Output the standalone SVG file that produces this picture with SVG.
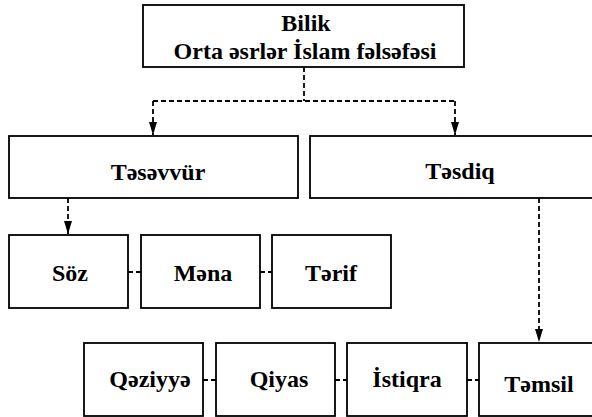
<svg xmlns="http://www.w3.org/2000/svg" width="592" height="417" viewBox="0 0 592 417">
  <defs>
    <marker id="arrow" viewBox="0 0 13 8" refX="13" refY="4" markerWidth="13" markerHeight="8" markerUnits="userSpaceOnUse" orient="auto">
      <path d="M0,0 L13,4 L0,8 z" fill="#000"/>
    </marker>
    <style>
      .box { fill: #fff; stroke: #000; stroke-width: 1.8; }
      .lbl { font-family: "Liberation Serif", "DejaVu Serif", serif; font-weight: bold; font-size: 24px; text-anchor: middle; fill: #000; }
      .dash { fill: none; stroke: #000; stroke-width: 1.8; stroke-dasharray: 5 3; }
      .arr { marker-end: url(#arrow); }
    </style>
  </defs>
  <rect width="592" height="417" fill="#fff"/>

  <g id="connectors">
    <path class="dash" d="M304,67 V101"/>
    <path class="dash" d="M153,101 H455"/>
    <path class="dash arr" d="M153,101 V135"/>
    <path class="dash arr" d="M455,101 V135"/>
    <path class="dash arr" d="M68,198 V234"/>
    <path class="dash arr" d="M539,198 V342"/>
    <path class="dash" d="M128,272 H141"/>
    <path class="dash" d="M260,272 H272"/>
    <path class="dash" d="M203,380 H216"/>
    <path class="dash" d="M335,380 H347"/>
    <path class="dash" d="M467,380 H479"/>
  </g>

  <g id="bilik">
    <rect class="box" x="143" y="5" width="321" height="62"/>
    <text class="lbl" x="306" y="31">Bilik</text>
    <text class="lbl" x="305" y="59">Orta əsrlər İslam fəlsəfəsi</text>
  </g>
  <g id="tesevvur">
    <rect class="box" x="9" y="136" width="289" height="62"/>
    <text class="lbl" x="158" y="180">Təsəvvür</text>
  </g>
  <g id="tesdiq">
    <rect class="box" x="310" y="136" width="290" height="62"/>
    <text class="lbl" x="460" y="179">Təsdiq</text>
  </g>
  <g id="soz">
    <rect class="box" x="9" y="235" width="119" height="73"/>
    <text class="lbl" x="70" y="281">Söz</text>
  </g>
  <g id="mena">
    <rect class="box" x="141" y="235" width="119" height="73"/>
    <text class="lbl" x="203" y="281">Məna</text>
  </g>
  <g id="terif">
    <rect class="box" x="272" y="235" width="119" height="73"/>
    <text class="lbl" x="331" y="281">Tərif</text>
  </g>
  <g id="qeziyye">
    <rect class="box" x="84" y="343" width="119" height="73"/>
    <text class="lbl" x="150" y="387">Qəziyyə</text>
  </g>
  <g id="qiyas">
    <rect class="box" x="216" y="343" width="119" height="73"/>
    <text class="lbl" x="279" y="387">Qiyas</text>
  </g>
  <g id="istiqra">
    <rect class="box" x="347" y="343" width="120" height="73"/>
    <text class="lbl" x="407" y="387">İstiqra</text>
  </g>
  <g id="temsil">
    <rect class="box" x="479" y="343" width="120" height="73"/>
    <text class="lbl" x="539" y="392">Təmsil</text>
  </g>
</svg>
